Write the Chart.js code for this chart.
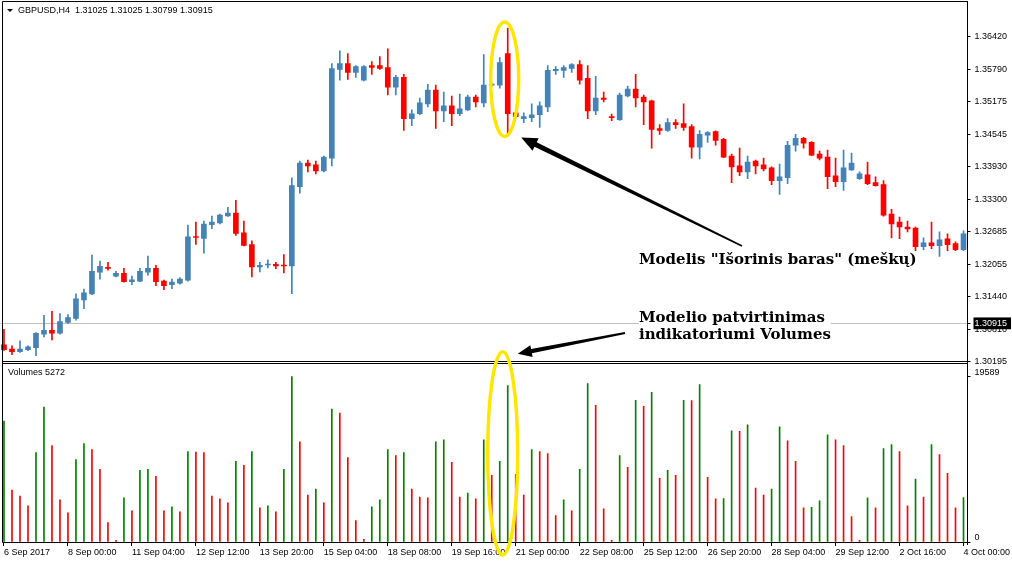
<!DOCTYPE html>
<html>
<head>
<meta charset="utf-8">
<script src="https://cdn.jsdelivr.net/npm/chart.js@4.4.0/dist/chart.umd.min.js"></script>
<style>
  body { margin: 0; background: #fff; }
  #wrap { position: relative; width: 1012px; height: 563px; overflow: hidden; }
  #chart { position: absolute; left: 0; top: 0; }
  .small { position: absolute; font: 9px "Liberation Sans", Arial, sans-serif; color: #000; white-space: pre; line-height: 11px; }
  .note { position: absolute; font: bold 15px "DejaVu Serif", serif; color: #000; background: #fff; white-space: nowrap; line-height: 17px; }
  .tri { position: absolute; left: 7px; top: 9px; width: 0; height: 0;
         border-left: 3px solid transparent; border-right: 3px solid transparent; border-top: 3px solid #000; }
</style>
</head>
<body>
<div id="wrap">
  <canvas id="chart" width="1012" height="563"></canvas>
  <div class="tri"></div>
  <div class="small" style="left:18px;top:5px">GBPUSD,H4  1.31025 1.31025 1.30799 1.30915</div>
  <div class="small" style="left:8px;top:367px">Volumes 5272</div>
  <div class="note" style="left:639px;top:251px">Modelis "Išorinis baras" (meškų)</div>
  <div class="note" style="left:639px;top:309px">Modelio patvirtinimas<br>indikatoriumi Volumes</div>
</div>
<script>
// H4 bars, 6 Sep 2017 16:00 .. 4 Oct 2017 00:00
const categories = [
  '6 Sep 16:00', '6 Sep 20:00',
  '7 Sep 00:00', '7 Sep 04:00', '7 Sep 08:00', '7 Sep 12:00', '7 Sep 16:00', '7 Sep 20:00',
  '8 Sep 00:00', '8 Sep 04:00', '8 Sep 08:00', '8 Sep 12:00', '8 Sep 16:00', '8 Sep 20:00',
  '10 Sep 20:00',
  '11 Sep 00:00', '11 Sep 04:00', '11 Sep 08:00', '11 Sep 12:00', '11 Sep 16:00', '11 Sep 20:00',
  '12 Sep 00:00', '12 Sep 04:00', '12 Sep 08:00', '12 Sep 12:00', '12 Sep 16:00', '12 Sep 20:00',
  '13 Sep 00:00', '13 Sep 04:00', '13 Sep 08:00', '13 Sep 12:00', '13 Sep 16:00', '13 Sep 20:00',
  '14 Sep 00:00', '14 Sep 04:00', '14 Sep 08:00', '14 Sep 12:00', '14 Sep 16:00', '14 Sep 20:00',
  '15 Sep 00:00', '15 Sep 04:00', '15 Sep 08:00', '15 Sep 12:00', '15 Sep 16:00', '15 Sep 20:00',
  '17 Sep 20:00',
  '18 Sep 00:00', '18 Sep 04:00', '18 Sep 08:00', '18 Sep 12:00', '18 Sep 16:00', '18 Sep 20:00',
  '19 Sep 00:00', '19 Sep 04:00', '19 Sep 08:00', '19 Sep 12:00', '19 Sep 16:00', '19 Sep 20:00',
  '20 Sep 00:00', '20 Sep 04:00', '20 Sep 08:00', '20 Sep 12:00', '20 Sep 16:00', '20 Sep 20:00',
  '21 Sep 00:00', '21 Sep 04:00', '21 Sep 08:00', '21 Sep 12:00', '21 Sep 16:00', '21 Sep 20:00',
  '22 Sep 00:00', '22 Sep 04:00', '22 Sep 08:00', '22 Sep 12:00', '22 Sep 16:00', '22 Sep 20:00',
  '24 Sep 20:00',
  '25 Sep 00:00', '25 Sep 04:00', '25 Sep 08:00', '25 Sep 12:00', '25 Sep 16:00', '25 Sep 20:00',
  '26 Sep 00:00', '26 Sep 04:00', '26 Sep 08:00', '26 Sep 12:00', '26 Sep 16:00', '26 Sep 20:00',
  '27 Sep 00:00', '27 Sep 04:00', '27 Sep 08:00', '27 Sep 12:00', '27 Sep 16:00', '27 Sep 20:00',
  '28 Sep 00:00', '28 Sep 04:00', '28 Sep 08:00', '28 Sep 12:00', '28 Sep 16:00', '28 Sep 20:00',
  '29 Sep 00:00', '29 Sep 04:00', '29 Sep 08:00', '29 Sep 12:00', '29 Sep 16:00', '29 Sep 20:00',
  '1 Oct 20:00',
  '2 Oct 00:00', '2 Oct 04:00', '2 Oct 08:00', '2 Oct 12:00', '2 Oct 16:00', '2 Oct 20:00',
  '3 Oct 00:00', '3 Oct 04:00', '3 Oct 08:00', '3 Oct 12:00', '3 Oct 16:00', '3 Oct 20:00',
  '4 Oct 00:00'
];

const opens = [
  1.30514, 1.30432, 1.30382, 1.30420, 1.30457, 1.30715, 1.30790, 1.30734, 1.30941, 1.31017,
  1.31375, 1.31488, 1.31902, 1.31997, 1.31827, 1.31883, 1.31720, 1.31733, 1.31902, 1.31978,
  1.31733, 1.31664, 1.31695, 1.31752, 1.32587, 1.32549, 1.32813, 1.32845, 1.32983, 1.33033,
  1.32656, 1.32430, 1.32003, 1.32041, 1.32053, 1.32034, 1.32022, 1.33542, 1.33994, 1.33957,
  1.33843, 1.34088, 1.35785, 1.35898, 1.35728, 1.35577, 1.35860, 1.35860, 1.35822, 1.35445,
  1.35634, 1.34842, 1.34937, 1.35125, 1.35389, 1.34993, 1.35087, 1.34937, 1.35012, 1.35257,
  1.35144, 1.35483, 1.35483, 1.36086, 1.34955, 1.34842, 1.34861, 1.34918, 1.35068, 1.35759,
  1.35766, 1.35803, 1.35879, 1.35615, 1.34993, 1.35238, 1.34880, 1.34823, 1.35276, 1.35408,
  1.35257, 1.35182, 1.34654, 1.34616, 1.34767, 1.34748, 1.34692, 1.34296, 1.34528, 1.34597,
  1.34446, 1.34126, 1.33938, 1.33825, 1.34032, 1.33957, 1.33900, 1.33655, 1.33712, 1.34333,
  1.34465, 1.34390, 1.34164, 1.34107, 1.33749, 1.33636, 1.33862, 1.33693, 1.33768, 1.33617,
  1.33580, 1.33014, 1.32863, 1.32769, 1.32750, 1.32392, 1.32468, 1.32411, 1.32543, 1.32449,
  1.32336
];
const highs = [
  1.30809, 1.30495, 1.30589, 1.30495, 1.30746, 1.31079, 1.31155, 1.31111, 1.31092, 1.31488,
  1.31582, 1.32229, 1.32116, 1.32091, 1.31921, 1.31978, 1.31827, 1.31978, 1.32210, 1.32034,
  1.31752, 1.31770, 1.31802, 1.32807, 1.32863, 1.32882, 1.32977, 1.33014, 1.33146, 1.33278,
  1.32882, 1.32505, 1.32091, 1.32141, 1.32091, 1.32242, 1.33712, 1.34032, 1.34051, 1.34032,
  1.34126, 1.35898, 1.36143, 1.36086, 1.35860, 1.35860, 1.35935, 1.36030, 1.36180, 1.35672,
  1.35690, 1.35012, 1.35238, 1.35502, 1.35483, 1.35351, 1.35276, 1.35313, 1.35295, 1.35295,
  1.36067, 1.35514, 1.36011, 1.36576, 1.34974, 1.34955, 1.35125, 1.35163, 1.35860, 1.35841,
  1.35860, 1.35898, 1.35954, 1.35860, 1.35653, 1.35351, 1.34930, 1.35332, 1.35464, 1.35690,
  1.35295, 1.35200, 1.34729, 1.34842, 1.34823, 1.35125, 1.34729, 1.34616, 1.34597, 1.34610,
  1.34465, 1.34164, 1.34277, 1.34126, 1.34051, 1.34088, 1.33919, 1.33975, 1.34409, 1.34541,
  1.34484, 1.34403, 1.34220, 1.34239, 1.34088, 1.34239, 1.34183, 1.33825, 1.34013, 1.33730,
  1.33655, 1.33108, 1.32958, 1.32882, 1.32769, 1.32562, 1.32863, 1.32675, 1.32637, 1.32487,
  1.32694
];
const lows = [
  1.30407, 1.30326, 1.30370, 1.30401, 1.30307, 1.30665, 1.30608, 1.30715, 1.30922, 1.30985,
  1.31205, 1.31475, 1.31770, 1.31940, 1.31814, 1.31714, 1.31664, 1.31720, 1.31846, 1.31645,
  1.31569, 1.31588, 1.31676, 1.31733, 1.32436, 1.32267, 1.32738, 1.32826, 1.32970, 1.32606,
  1.32405, 1.31814, 1.31909, 1.31984, 1.31971, 1.31890, 1.31494, 1.33416, 1.33825, 1.33787,
  1.33825, 1.33938, 1.35577, 1.35596, 1.35634, 1.35565, 1.35690, 1.35785, 1.35295, 1.35295,
  1.34616, 1.34710, 1.34918, 1.35068, 1.34654, 1.34786, 1.34710, 1.34899, 1.35000, 1.35068,
  1.35068, 1.35458, 1.35426, 1.34560, 1.34861, 1.34767, 1.34786, 1.34673, 1.34974, 1.35690,
  1.35634, 1.35728, 1.35502, 1.34842, 1.34918, 1.35163, 1.34805, 1.34811, 1.35257, 1.35068,
  1.34729, 1.34277, 1.34541, 1.34597, 1.34654, 1.34616, 1.34088, 1.34070, 1.34390, 1.34333,
  1.34095, 1.33617, 1.33749, 1.33693, 1.33787, 1.33843, 1.33580, 1.33391, 1.33598, 1.34220,
  1.34277, 1.34133, 1.34051, 1.33504, 1.33542, 1.33467, 1.33850, 1.33680, 1.33580, 1.33548,
  1.32977, 1.32562, 1.32543, 1.32675, 1.32260, 1.32336, 1.32355, 1.32204, 1.32317, 1.32317,
  1.32317
];
const closes = [
  1.30420, 1.30382, 1.30432, 1.30476, 1.30734, 1.30790, 1.30734, 1.30960, 1.31035, 1.31393,
  1.31507, 1.31921, 1.32015, 1.31978, 1.31883, 1.31720, 1.31758, 1.31921, 1.31978, 1.31720,
  1.31645, 1.31714, 1.31770, 1.32581, 1.32568, 1.32826, 1.32863, 1.32995, 1.33033, 1.32644,
  1.32417, 1.32003, 1.32034, 1.32059, 1.32022, 1.32022, 1.33561, 1.33994, 1.33938, 1.33843,
  1.34107, 1.35803, 1.35898, 1.35728, 1.35841, 1.35841, 1.35822, 1.35803, 1.35445, 1.35634,
  1.34842, 1.34937, 1.35144, 1.35389, 1.34993, 1.35087, 1.34937, 1.35031, 1.35257, 1.35163,
  1.35483, 1.35489, 1.35916, 1.34937, 1.34880, 1.34880, 1.34918, 1.35087, 1.35766, 1.35785,
  1.35822, 1.35879, 1.35577, 1.34993, 1.35238, 1.35213, 1.34861, 1.35295, 1.35408, 1.35238,
  1.35163, 1.34635, 1.34616, 1.34767, 1.34729, 1.34673, 1.34296, 1.34541, 1.34578, 1.34428,
  1.34107, 1.33919, 1.33825, 1.34013, 1.33938, 1.33881, 1.33655, 1.33730, 1.34333, 1.34465,
  1.34371, 1.34145, 1.34088, 1.33730, 1.33636, 1.33900, 1.33994, 1.33787, 1.33598, 1.33561,
  1.32995, 1.32826, 1.32769, 1.32732, 1.32392, 1.32468, 1.32411, 1.32524, 1.32430, 1.32336,
  1.32637
];
const volumes = [
  14330, 6153, 5452, 4283, 10592, 15965, 11409, 4984, 3466, 9774,
  11643, 10942, 8606, 2297, 195, 5218, 3699, 8489, 8606, 7788,
  3699, 4167, 3582, 10708, 10650, 10592, 5452, 5101, 4634, 9540,
  9073, 10708, 4050, 4283, 3582, 8606, 19589, 11877, 5568, 6269,
  4634, 15732, 15264, 10008, 2531, 312, 4167, 4984, 10942, 10241,
  10592, 6269, 5335, 5218, 11877, 12110, 9423, 5335, 5802, 5101,
  12110, 7905, 9540, 18535, 8022, 5568, 10942, 10708, 10475, 3115,
  4984, 3699, 8606, 18769, 16199, 3933, 195, 10241, 8839, 16783,
  16082, 17718, 7554, 8489, 7905, 16783, 16750, 18652, 7671, 5101,
  5150, 13162, 13100, 13863, 6386, 5568, 6269, 13629, 11994, 9540,
  4050, 4100, 4868, 12694, 12110, 11409, 2998, 195, 5218, 4050,
  11059, 11526, 10708, 4283, 7438, 5335, 11526, 10358, 8138, 4050,
  5272
];

// one date label every 8 bars
const tickLabels = [
  '6 Sep 2017', '8 Sep 00:00', '11 Sep 04:00', '12 Sep 12:00', '13 Sep 20:00', '15 Sep 04:00',
  '18 Sep 08:00', '19 Sep 16:00', '21 Sep 00:00', '22 Sep 08:00', '25 Sep 12:00', '26 Sep 20:00',
  '28 Sep 04:00', '29 Sep 12:00', '2 Oct 16:00', '4 Oct 00:00'
];
const priceTicks = [1.30195, 1.30810, 1.30915, 1.31440, 1.32055, 1.32685, 1.33300, 1.33930, 1.34545, 1.35175, 1.35790, 1.36420];
const volumeTicks = [0, 19589];
const bidPrice = 1.30915;

const motherBar = 62;   // bar engulfed by the outside bar
const outsideBar = 63;  // bearish outside bar

const bullColor = '#4682B4';
const bearColor = '#FF0000';
const candleColors = opens.map((o, i) => closes[i] >= o ? bullColor : bearColor);
const volumeColors = volumes.map((v, i) => (i === 0 || v > volumes[i - 1]) ? '#008000' : '#FF0000');

const smallFont = { family: "'Liberation Sans', Arial, sans-serif", size: 9 };

function drawArrow(ctx, x1, y1, x2, y2, tailW, neckW, headLen, headW) {
  const a = Math.atan2(y2 - y1, x2 - x1);
  const ux = Math.cos(a), uy = Math.sin(a);
  const px = -uy, py = ux;
  const bx = x2 - ux * headLen, by = y2 - uy * headLen;
  ctx.beginPath();
  ctx.moveTo(x1 + px * tailW / 2, y1 + py * tailW / 2);
  ctx.lineTo(bx + px * neckW / 2, by + py * neckW / 2);
  ctx.lineTo(bx + px * headW / 2, by + py * headW / 2);
  ctx.lineTo(x2, y2);
  ctx.lineTo(bx - px * headW / 2, by - py * headW / 2);
  ctx.lineTo(bx - px * neckW / 2, by - py * neckW / 2);
  ctx.lineTo(x1 - px * tailW / 2, y1 - py * tailW / 2);
  ctx.closePath();
  ctx.fill();
}

const framePlugin = {
  id: 'frameAndNotes',
  afterDraw(chart) {
    const { ctx, scales } = chart;
    const x = scales.x, y = scales.y, yVol = scales.yVol;
    const right = y.left;
    ctx.save();
    // window frame and pane separator
    ctx.strokeStyle = '#000';
    ctx.lineWidth = 1;
    ctx.beginPath();
    ctx.moveTo(2.5, 1.5); ctx.lineTo(right, 1.5);
    ctx.moveTo(2.5, 1.5); ctx.lineTo(2.5, 542.5);
    ctx.moveTo(2.5, 542.5); ctx.lineTo(right, 542.5);
    ctx.moveTo(right, 1); ctx.lineTo(right, 545);
    ctx.moveTo(2.5, 361.5); ctx.lineTo(right, 361.5);
    ctx.moveTo(2.5, 363.5); ctx.lineTo(right, 363.5);
    ctx.stroke();

    // yellow ellipses round the outside bar
    const mx = (x.getPixelForValue(motherBar) + x.getPixelForValue(outsideBar)) / 2;
    const top1 = y.getPixelForValue(highs[outsideBar]) - 6;
    const bot1 = y.getPixelForValue(lows[outsideBar]) + 3;
    ctx.strokeStyle = '#FFE600';
    ctx.lineWidth = 3.5;
    ctx.beginPath();
    ctx.ellipse(mx + 1, (top1 + bot1) / 2, 14, (bot1 - top1) / 2, 0, 0, Math.PI * 2);
    ctx.stroke();
    const top2 = yVol.top - 13, bot2 = yVol.bottom + 13;
    ctx.beginPath();
    ctx.ellipse(mx - 1, (top2 + bot2) / 2, 15, (bot2 - top2) / 2, 0, 0, Math.PI * 2);
    ctx.stroke();

    // arrows from the notes
    ctx.fillStyle = '#000';
    drawArrow(ctx, 742, 246, mx + 17.5, bot1 + 1, 1.5, 5, 16, 14);
    drawArrow(ctx, 625, 333, mx + 14, top2 + 2, 2, 4.5, 14, 12);
    ctx.restore();
  }
};

new Chart(document.getElementById('chart'), {
  type: 'bar',
  data: {
    labels: categories,
    datasets: [
      {
        label: 'Body',
        data: opens.map((o, i) => [o, closes[i]]),
        backgroundColor: candleColors,
        barThickness: 5,
        minBarLength: 1,
        grouped: false,
        yAxisID: 'y'
      },
      {
        label: 'Wick',
        data: lows.map((l, i) => [l, highs[i]]),
        backgroundColor: candleColors,
        barThickness: 1,
        grouped: false,
        yAxisID: 'y'
      },
      {
        label: 'Volumes',
        data: volumes,
        backgroundColor: volumeColors,
        barThickness: 1,
        grouped: false,
        yAxisID: 'yVol'
      }
    ]
  },
  options: {
    responsive: false,
    animation: false,
    devicePixelRatio: 1,
    layout: { padding: { left: -0.5, top: 1, right: 0, bottom: 0 } },
    plugins: {
      legend: { display: false },
      tooltip: { enabled: false }
    },
    scales: {
      x: {
        type: 'category',
        offset: true,
        border: { display: false },
        grid: {
          drawOnChartArea: false,
          offset: false,
          tickLength: 4,
          color: 'rgba(0,0,0,0)',
          tickColor: ctx => ctx.index % 8 === 0 ? '#000' : 'rgba(0,0,0,0)'
        },
        ticks: {
          autoSkip: false,
          maxRotation: 0,
          minRotation: 0,
          align: 'start',
          padding: 1,
          color: '#000',
          font: smallFont,
          callback: (value, index) => index % 8 === 0 ? tickLabels[index / 8] : ''
        },
        afterFit: scale => { scale.height = 21; }
      },
      y: {
        type: 'linear',
        position: 'right',
        stack: 'panes',
        stackWeight: 361,
        min: 1.30131,
        max: 1.36934,
        border: { display: false },
        afterBuildTicks: scale => { scale.ticks = priceTicks.map(v => ({ value: v })); },
        afterFit: scale => { scale.width = 44.5; },
        grid: {
          tickLength: 3,
          tickColor: '#000',
          color: ctx => (ctx.tick && ctx.tick.value === bidPrice) ? '#C0C0C0' : 'rgba(0,0,0,0)'
        },
        ticks: {
          padding: 4,
          font: smallFont,
          color: ctx => ctx.tick.value === bidPrice ? '#fff' : '#000',
          showLabelBackdrop: ctx => ctx.tick.value === bidPrice,
          backdropColor: '#000',
          backdropPadding: { left: 1, right: 4, top: 1, bottom: 0 },
          callback: v => v.toFixed(5)
        }
      },
      yVol: {
        type: 'linear',
        position: 'right',
        stack: 'panes',
        stackWeight: 180,
        min: 0,
        max: 20988,
        border: { display: false },
        afterBuildTicks: scale => { scale.ticks = volumeTicks.map(v => ({ value: v })); },
        afterFit: scale => { scale.width = 44.5; },
        grid: { drawOnChartArea: false, tickLength: 3, color: '#000' },
        ticks: {
          padding: 4,
          labelOffset: -4,
          font: smallFont,
          color: '#000',
          callback: v => String(v)
        }
      }
    }
  },
  plugins: [framePlugin]
});
</script>
</body>
</html>
